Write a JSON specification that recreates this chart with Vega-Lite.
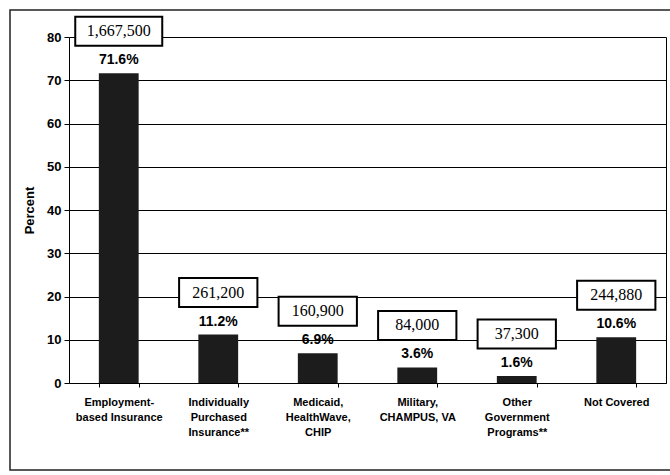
{
  "$schema": "https://vega.github.io/schema/vega-lite/v6.json",
  "width": 665,
  "height": 460,
  "autosize": {"type": "none"},
  "padding": {"left": 10, "top": 10, "right": 0, "bottom": 5},
  "background": "white",
  "config": {
    "view": {"stroke": "#222222", "strokeWidth": 1.5},
    "font": "Liberation Sans"
  },
  "data": {
    "values": [
      {"category": "Employment-based Insurance", "percent": 71.6, "persons": 1667500},
      {"category": "Individually Purchased Insurance**", "percent": 11.2, "persons": 261200},
      {"category": "Medicaid, HealthWave, CHIP", "percent": 6.9, "persons": 160900},
      {"category": "Military, CHAMPUS, VA", "percent": 3.6, "persons": 84000},
      {"category": "Other Government Programs**", "percent": 1.6, "persons": 37300},
      {"category": "Not Covered", "percent": 10.6, "persons": 244880}
    ]
  },
  "transform": [
    {"calculate": "format(datum.percent, '.1f') + '%'", "as": "percentLabel"}
  ],
  "resolve": {"axis": {"y": "independent"}},
  "encoding": {
    "x": {
      "field": "category",
      "type": "nominal",
      "sort": null,
      "scale": {"range": [59, 656], "paddingInner": 0.6, "paddingOuter": 0.3},
      "axis": {
        "title": null,
        "offset": -87,
        "labelAngle": 0,
        "tickBand": "extent",
        "tickSize": 4,
        "tickColor": "black",
        "domainColor": "black",
        "labelColor": "black",
        "labelFont": "Liberation Sans",
        "labelFontSize": 11,
        "labelFontWeight": "bold",
        "labelPadding": 9,
        "labelLineHeight": 15,
        "labelLimit": 200,
        "labelExpr": "datum.value == 'Employment-based Insurance' ? ['Employment-', 'based Insurance'] : datum.value == 'Individually Purchased Insurance**' ? ['Individually', 'Purchased', 'Insurance**'] : datum.value == 'Medicaid, HealthWave, CHIP' ? ['Medicaid,', 'HealthWave,', 'CHIP'] : datum.value == 'Military, CHAMPUS, VA' ? ['Military,', 'CHAMPUS,    VA'] : datum.value == 'Other Government Programs**' ? ['Other', 'Government', 'Programs**'] : datum.value"
      }
    }
  },
  "layer": [
    {
      "mark": {"type": "bar", "color": "#1c1c1c"},
      "encoding": {
        "y": {
          "field": "percent",
          "type": "quantitative",
          "scale": {"domain": [0, 80], "nice": false, "range": [373, 27]},
          "axis": {
            "title": "Percent",
            "offset": -59,
            "values": [0, 10, 20, 30, 40, 50, 60, 70, 80],
            "grid": true,
            "gridColor": "black",
            "gridOpacity": 1,
            "gridWidth": 1,
            "tickSize": 5,
            "tickColor": "black",
            "domainColor": "black",
            "labelColor": "black",
            "labelFontSize": 13,
            "labelFontWeight": "bold",
            "labelPadding": 3,
            "titleColor": "black",
            "titleFontSize": 13,
            "titleFontWeight": "bold",
            "titlePadding": 10
          }
        }
      }
    },
    {
      "mark": {"type": "text", "font": "Liberation Sans", "fontSize": 14, "fontWeight": "bold", "color": "black", "baseline": "middle", "dy": -13},
      "encoding": {
        "y": {"field": "percent", "type": "quantitative", "axis": null},
        "text": {"field": "percentLabel"}
      }
    },
    {
      "mark": {"type": "point", "filled": true, "fill": "white", "fillOpacity": 1, "stroke": "black", "strokeWidth": 2, "opacity": 1, "size": 841, "yOffset": -42},
      "encoding": {
        "y": {"field": "percent", "type": "quantitative", "axis": null},
        "shape": {
          "condition": {"test": "datum.persons > 1000000", "value": "M-3,-1H3V1H-3Z"},
          "value": "M-2.7,-1H2.7V1H-2.7Z"
        }
      }
    },
    {
      "mark": {"type": "text", "font": "Liberation Serif", "fontSize": 16, "color": "black", "baseline": "middle", "dy": -42},
      "encoding": {
        "y": {
          "field": "percent",
          "type": "quantitative",
          "axis": {
            "orient": "right",
            "offset": -9,
            "title": null,
            "labels": false,
            "ticks": false,
            "grid": false,
            "domainColor": "black"
          }
        },
        "text": {"field": "persons", "format": ","}
      }
    }
  ]
}
